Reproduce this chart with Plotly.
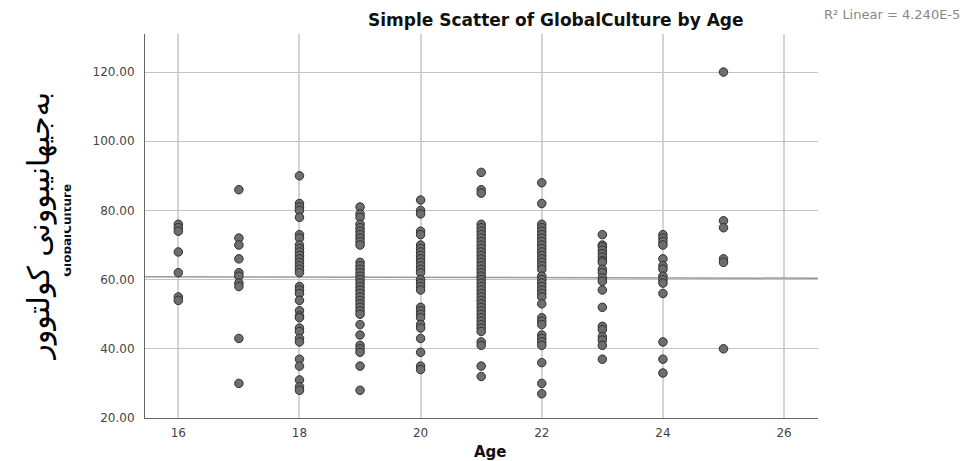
import plotly.graph_objects as go

# ---- data ----
age16 = [76, 75, 74, 68, 62, 55, 54]
age17 = [86, 72, 70, 66, 62, 61, 59, 58, 43, 30]
age18 = [90, 82, 81, 80, 78, 73, 72, 70, 69, 68, 67, 66, 65, 64, 63, 62, 58, 57, 56, 54,
         51, 49.5, 49, 46, 45, 43, 42, 37, 35, 31, 29, 28]
age19 = [81, 79, 78, 76, 75, 74, 73, 72, 71, 70, 65, 64, 63, 62, 61, 60, 59, 58, 57, 56,
         55, 54, 53, 52, 51, 50, 47, 44, 41, 40, 39, 35, 28]
age20 = [83, 80, 79, 74, 73, 70, 69, 68, 67, 66, 65, 64, 63, 62, 60, 59, 58, 57, 52, 51,
         50, 49, 47, 46, 43, 39, 35, 34]
age21 = [91, 86, 85, 76, 75, 74, 73, 72, 71, 70, 69, 68, 67, 66, 65, 64, 63, 62, 61, 60,
         59, 58, 57, 56, 55, 54, 53, 52, 51, 50, 49, 48, 47, 46, 45, 42, 41, 35, 32]
age22 = [88, 82, 76, 75, 74, 73, 72, 71, 70, 69, 68, 67, 66, 65, 64, 63, 61, 60, 59, 58,
         57, 56, 55, 53, 49, 48, 47, 44, 43, 42, 41, 36, 30, 27]
age23 = [73, 70, 69.5, 68.5, 67.5, 66.5, 65.5, 65, 63, 62, 60.5, 59.5, 57, 52, 46.5, 45.5,
         43.5, 42.5, 41, 37]
age24 = [73, 72, 71, 70, 66, 64, 63, 61, 60, 59, 56, 42, 37, 33]
age25 = [120, 77, 75, 66, 65, 40]

ages = [16, 17, 18, 19, 20, 21, 22, 23, 24, 25]
culture_by_age = [age16, age17, age18, age19, age20, age21, age22, age23, age24, age25]

fit_x = [15.45, 26.56]
fit_y = [60.8, 60.4]

x_ticks = [16, 18, 20, 22, 24, 26]
y_ticks = [20, 40, 60, 80, 100, 120]

title_text = "Simple Scatter of GlobalCulture by Age"
r2_text = "R² Linear = 4.240E-5"
x_title = "Age"
y_title = "GlobalCulture"
kurdish_title = "بەجیهانیبوونی کولتوور"

xs, ys = [], []
for a, vals in zip(ages, culture_by_age):
    xs += [a] * len(vals)
    ys += vals

fig = go.Figure()
fig.add_trace(go.Scatter(
    x=fit_x, y=fit_y, mode="lines",
    line=dict(color="#9a9a9a", width=1.5),
    hoverinfo="skip", showlegend=False))
fig.add_trace(go.Scatter(
    x=xs, y=ys, mode="markers",
    marker=dict(size=8.5, color="#6e6e6e", line=dict(color="#2f2f2f", width=1)),
    showlegend=False))

fig.update_layout(
    width=962, height=461,
    margin=dict(l=145, r=144, t=34, b=43),
    paper_bgcolor="white", plot_bgcolor="white",
    font=dict(family="DejaVu Sans", color="#333"),
    xaxis=dict(range=[15.45, 26.56], tickvals=x_ticks, showgrid=True,
               gridcolor="#d4d4d4", gridwidth=1.5, zeroline=False,
               showline=True, linecolor="#666", linewidth=1,
               ticks="", ticklabelstandoff=4, tickfont=dict(size=12, color="#444")),
    yaxis=dict(range=[20, 131], tickvals=y_ticks, tickformat=".2f", showgrid=True,
               gridcolor="#c4c4c4", gridwidth=1, zeroline=False,
               showline=True, linecolor="#666", linewidth=1,
               ticks="", ticklabelstandoff=7, tickfont=dict(size=12, color="#444")),
)

annots = [
    dict(text="<b>" + title_text + "</b>", x=0.611, y=1.036, xref="paper", yref="paper",
         xanchor="center", yanchor="middle", showarrow=False,
         font=dict(size=17, color="#111", family="DejaVu Sans")),
    dict(text=r2_text, x=1.006, y=1.052, xref="paper", yref="paper",
         xanchor="left", yanchor="middle", showarrow=False,
         font=dict(size=13, color="#888", family="DejaVu Sans")),
    dict(text="<b>" + x_title + "</b>", x=0.513, y=-0.089, xref="paper", yref="paper",
         xanchor="center", yanchor="middle", showarrow=False,
         font=dict(size=15, color="#111", family="DejaVu Sans")),
    dict(text="<b>" + y_title + "</b>", x=-0.116, y=0.49, xref="paper", yref="paper",
         xanchor="center", yanchor="middle", showarrow=False, textangle=-90,
         font=dict(size=12, color="#111", family="DejaVu Sans")),
    dict(text=" ", x=-0.1195, y=0.49, xref="paper", yref="paper",
         xanchor="right", yanchor="middle", showarrow=False,
         width=30, height=130, bgcolor="white", borderpad=0,
         font=dict(size=12)),
    dict(text=kurdish_title, x=-0.158, y=0.5, xref="paper", yref="paper",
         xanchor="center", yanchor="middle", showarrow=False, textangle=-90,
         font=dict(size=30, color="#000", family="DejaVu Sans")),
]
fig.update_layout(annotations=annots)

fig.write_html("out.html", config={"displayModeBar": False},
               post_script="document.body.style.margin='0';")
